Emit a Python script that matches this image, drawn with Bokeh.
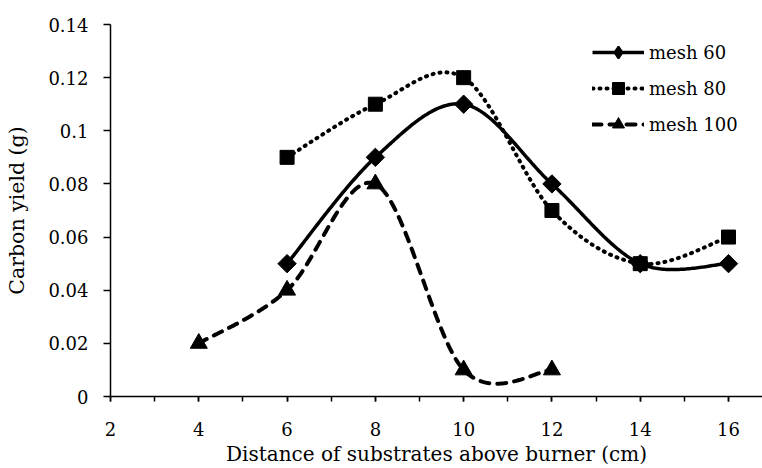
import numpy as np
from bokeh.plotting import figure
from bokeh.models import (Range1d, SingleIntervalTicker, FixedTicker, CustomJSTickFormatter,
                          Legend, LegendItem)
from bokeh.embed import file_html
from bokeh.resources import INLINE

# ---- data ----
x_mesh60 = [6, 8, 10, 12, 14, 16]
y_mesh60 = [0.05, 0.09, 0.11, 0.08, 0.05, 0.05]
x_mesh80 = [6, 8, 10, 12, 14, 16]
y_mesh80 = [0.09, 0.11, 0.12, 0.07, 0.05, 0.06]
x_mesh100 = [4, 6, 8, 10, 12]
y_mesh100 = [0.02, 0.04, 0.08, 0.01, 0.01]
series_labels = ["mesh 60", "mesh 80", "mesh 100"]
y_tick_values = [0, 0.02, 0.04, 0.06, 0.08, 0.10, 0.12, 0.14]
x_title = "Distance of substrates above burner (cm)"
y_title = "Carbon yield (g)"

FONT = "DejaVu Serif"


def smooth(xs, ys, n=60):
    """Excel-like smoothed line (Catmull-Rom Bezier) through the data points."""
    P = np.column_stack([xs, ys]).astype(float)
    pts = []
    for i in range(len(P) - 1):
        p0 = P[i - 1] if i > 0 else P[i]
        p1, p2 = P[i], P[i + 1]
        p3 = P[i + 2] if i + 2 < len(P) else P[i + 1]
        c1 = p1 + (p2 - p0) / 6.0
        c2 = p2 - (p3 - p1) / 6.0
        t = np.linspace(0, 1, n)[:, None]
        if i > 0:
            t = t[1:]
        B = ((1 - t) ** 3) * p1 + 3 * ((1 - t) ** 2) * t * c1 + 3 * (1 - t) * (t ** 2) * c2 + (t ** 3) * p2
        pts.append(B)
    B = np.vstack(pts)
    return B[:, 0], B[:, 1]


p = figure(width=762, height=468, output_backend="svg", toolbar_location=None,
           x_range=Range1d(2, 16.77), y_range=Range1d(0, 0.14),
           min_border_left=110, min_border_right=0, min_border_top=24, min_border_bottom=71)
p.outline_line_color = None
p.background_fill_color = "white"
p.border_fill_color = "white"

# axes
p.xaxis.ticker = SingleIntervalTicker(interval=2, num_minor_ticks=2)
p.yaxis.ticker = FixedTicker(ticks=y_tick_values)
p.yaxis.formatter = CustomJSTickFormatter(code="""
    let s = tick.toFixed(2);
    s = s.replace(/0+$/, '').replace(/\\.$/, '');
    return s;
""")
for ax in (p.xaxis[0], p.yaxis[0]):
    ax.axis_line_color = "black"
    ax.axis_line_width = 1.5
    ax.major_tick_line_color = "black"
    ax.major_tick_line_width = 1.5
    ax.minor_tick_line_color = "black"
    ax.minor_tick_line_width = 1.5
    ax.major_tick_in = 0
    ax.minor_tick_in = 0
    ax.major_label_text_font = FONT
    ax.major_label_text_font_size = "18px"
    ax.major_label_text_color = "black"
    ax.axis_label_text_font = FONT
    ax.axis_label_text_font_size = "20px"
    ax.axis_label_text_font_style = "normal"
    ax.axis_label_text_color = "black"

p.yaxis.axis_label_text_font_size = "20.5px"

p.xaxis.major_tick_out = 5
p.xaxis.minor_tick_out = 5
p.xaxis.major_label_standoff = 20
p.xaxis.axis_label_standoff = 3
p.xaxis.axis_label = x_title

p.yaxis.major_tick_out = 7
p.yaxis.minor_tick_out = 0
p.yaxis.major_label_standoff = 15
p.yaxis.axis_label_standoff = 16
p.yaxis.axis_label = y_title

p.xgrid.grid_line_color = None
p.ygrid.ticker = FixedTicker(ticks=[y_tick_values[-1]])
p.ygrid.grid_line_color = "black"
p.ygrid.grid_line_width = 1.5

# series
sx, sy = smooth(x_mesh60, y_mesh60)
l60 = p.line(sx, sy, line_color="black", line_width=3.5)
# diamond used by the legend; it sits under the rotated squares drawn for the plot
d60 = p.scatter(x_mesh60, y_mesh60, marker="diamond", size=12,
                fill_color="black", line_color="black", line_width=2)
p.scatter(x_mesh60, y_mesh60, marker="square", angle=np.pi / 4, size=13,
          fill_color="black", line_color="black")

sx, sy = smooth(x_mesh80, y_mesh80)
l80 = p.line(sx, sy, line_color="black", line_width=4, line_dash="1 6", line_cap="round")
m80 = p.scatter(x_mesh80, y_mesh80, marker="square", size=14, fill_color="black", line_color="black")

sx, sy = smooth(x_mesh100, y_mesh100)
l100 = p.line(sx, sy, line_color="black", line_width=4, line_dash="9 8", line_cap="round")
m100 = p.scatter(x_mesh100, y_mesh100, marker="triangle", size=17, fill_color="black", line_color="black")

legend = Legend(items=[
    LegendItem(label=series_labels[0], renderers=[l60, d60]),
    LegendItem(label=series_labels[1], renderers=[l80, m80]),
    LegendItem(label=series_labels[2], renderers=[l100, m100]),
], location=(482, 257))
legend.padding = 0
legend.margin = 0
legend.spacing = 6
legend.glyph_width = 52
legend.glyph_height = 30
legend.label_height = 30
legend.label_standoff = 5
legend.label_text_font = FONT
legend.label_text_font_size = "18px"
legend.label_text_color = "black"
legend.border_line_color = None
legend.background_fill_alpha = 0
p.add_layout(legend)

open("out.html", "w").write(file_html(p, INLINE))
